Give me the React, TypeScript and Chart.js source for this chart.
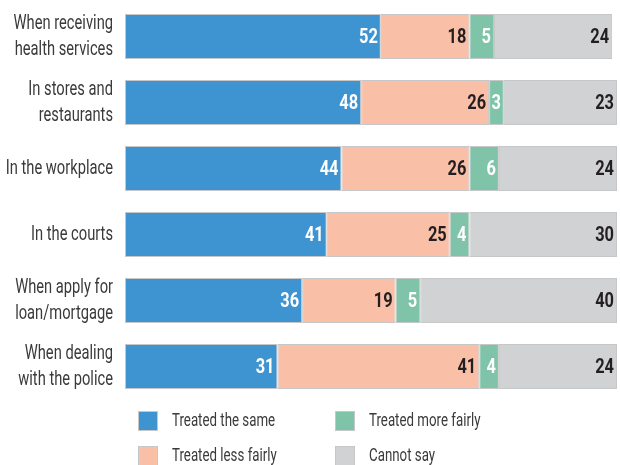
import React, { useEffect, useRef } from "react";
import { Chart, registerables } from "chart.js";

Chart.register(...registerables);

const categories: string[][] = [
  ["When receiving", "health services"],
  ["In stores and", "restaurants"],
  ["In the workplace"],
  ["In the courts"],
  ["When apply for", "loan/mortgage"],
  ["When dealing", "with the police"],
];

const seriesNames = ["Treated the same", "Treated less fairly", "Treated more fairly", "Cannot say"];
const treatedSame = [52, 48, 44, 41, 36, 31];
const treatedLess = [18, 26, 26, 25, 19, 41];
const treatedMore = [5, 3, 6, 4, 5, 4];
const cannotSay = [24, 23, 24, 30, 40, 24];

const colors = ["#3d94d0", "#f9bfa7", "#7fc4a8", "#d1d2d4"];
const labelColors = ["#ffffff", "#231f20", "#ffffff", "#231f20"];
const legendOrder = [0, 2, 1, 3];

const FONT = "Roboto, 'DejaVu Sans Condensed', sans-serif";
const TEXT_SX = 0.7;
const VALUE_SX = 0.82;

function drawScaled(ctx: CanvasRenderingContext2D, text: string, x: number, y: number, sx: number) {
  ctx.save();
  ctx.translate(x, y);
  ctx.scale(sx, 1);
  ctx.fillText(text, 0, 0);
  ctx.restore();
}

export default function App() {
  const ref = useRef<HTMLCanvasElement | null>(null);

  useEffect(() => {
    document.body.style.margin = "0";
    const canvas = ref.current;
    if (!canvas) return;

    const categoryLabels = {
      id: "categoryLabels",
      afterDraw(chart: any) {
        const ctx = chart.ctx as CanvasRenderingContext2D;
        const yScale = chart.scales.y;
        const right = chart.chartArea.left - 12;
        ctx.save();
        ctx.font = `21px ${FONT}`;
        ctx.textAlign = "right";
        ctx.textBaseline = "middle";
        ctx.fillStyle = "#3a3a3a";
        const lh = 26;
        categories.forEach((lines, i) => {
          const cy = yScale.getPixelForValue(i);
          const start = cy - ((lines.length - 1) * lh) / 2;
          lines.forEach((ln, j) => drawScaled(ctx, ln, right, start + j * lh, TEXT_SX));
        });
        ctx.restore();
      },
    };

    const valueLabels = {
      id: "valueLabels",
      afterDatasetsDraw(chart: any) {
        const ctx = chart.ctx as CanvasRenderingContext2D;
        ctx.save();
        ctx.font = `bold 20px ${FONT}`;
        ctx.textAlign = "right";
        ctx.textBaseline = "middle";
        chart.data.datasets.forEach((ds: any, di: number) => {
          const meta = chart.getDatasetMeta(di);
          meta.data.forEach((bar: any, i: number) => {
            ctx.fillStyle = labelColors[di];
            drawScaled(ctx, String(ds.data[i]), bar.x - 3, bar.y + 1, VALUE_SX);
          });
        });
        ctx.restore();
      },
    };

    const customLegend = {
      id: "customLegend",
      afterDraw(chart: any) {
        const ctx = chart.ctx as CanvasRenderingContext2D;
        ctx.save();
        ctx.font = `19px ${FONT}`;
        ctx.textBaseline = "middle";
        ctx.textAlign = "left";
        const colX = [138, 335];
        const rowY = [411, 446];
        legendOrder.forEach((si, k) => {
          const col = k % 2;
          const row = Math.floor(k / 2);
          const x = colX[col];
          const y = rowY[row];
          ctx.fillStyle = colors[si];
          ctx.fillRect(x, y, 20, 20);
          ctx.strokeStyle = "#c6c7c9";
          ctx.lineWidth = 1;
          ctx.strokeRect(x + 0.5, y + 0.5, 19, 19);
          ctx.fillStyle = "#3a3a3a";
          drawScaled(ctx, seriesNames[si], x + 34, y + 10, TEXT_SX);
        });
        ctx.restore();
      },
    };

    const allSeries = [treatedSame, treatedLess, treatedMore, cannotSay];

    const chart = new Chart(canvas, {
      type: "bar",
      data: {
        labels: categories.map((c) => c.join(" ")),
        datasets: allSeries.map((d, i) => ({
          label: seriesNames[i],
          data: d,
          backgroundColor: colors[i],
          borderColor: "#c6c7c9",
          borderWidth: 1,
          borderSkipped: false,
          barPercentage: 45 / 66,
          categoryPercentage: 1,
        })),
      },
      options: {
        indexAxis: "y",
        animation: false,
        responsive: false,
        maintainAspectRatio: false,
        layout: { padding: { top: 3.5, bottom: 65.5, left: 125, right: 3 } },
        plugins: {
          legend: { display: false },
          tooltip: { enabled: false },
        },
        scales: {
          x: {
            stacked: true,
            min: 0,
            max: 100,
            display: false,
          },
          y: {
            stacked: true,
            display: false,
          },
        },
      },
      plugins: [valueLabels, categoryLabels, customLegend],
    } as any);

    return () => chart.destroy();
  }, []);

  return <canvas ref={ref} width={620} height={465} style={{ display: "block" }} />;
}
